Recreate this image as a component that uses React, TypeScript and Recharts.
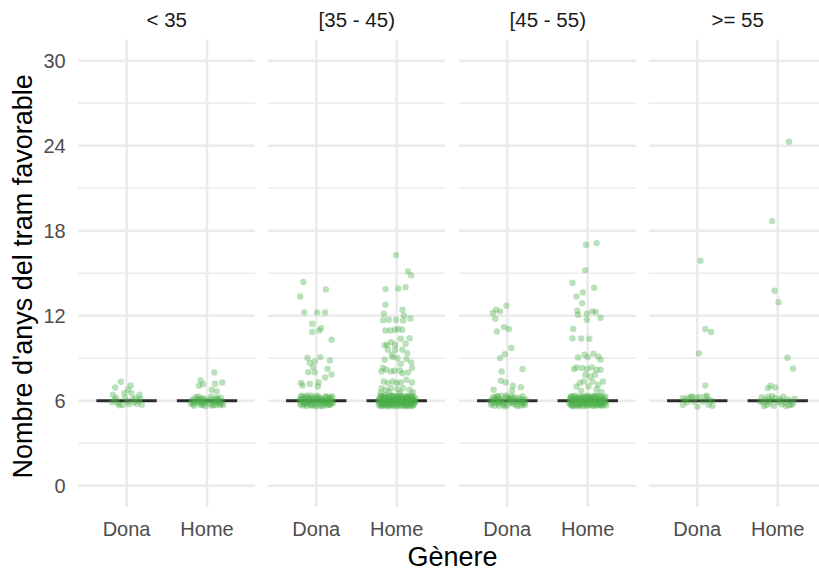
import React from 'react';
import { ScatterChart, Scatter, XAxis, YAxis, CartesianGrid } from 'recharts';

const AGE_GROUPS = ['< 35', '[35 - 45)', '[45 - 55)', '>= 55'];
const GENDERS = ['Dona', 'Home'];
const MEDIANS = [[6, 6], [6, 6], [6, 6], [6, 6]];
const Y_TICKS = [0, 6, 12, 18, 24, 30];
const Y_MINOR = [3, 9, 15, 21, 27];

// [jitter offset within category, value]
const p1Dona = [
  [-0.07, 7.34], [-0.14, 6.94], [0.05, 7.08], [0.02, 6.78], [-0.17, 6.42], [-0.03, 6.54], [0.06, 6.54], [0.16, 6.42],
  [-0.15, 6.05], [-0.11, 5.82], [-0.05, 5.7], [0.01, 5.95], [0.07, 6.1], [0.11, 6.2], [0.15, 5.98], [0.19, 5.72],
  [-0.09, 5.68], [0.03, 5.76], [0.13, 5.78], [-0.02, 6.22], [0.09, 5.88], [-0.13, 6.2], [0.17, 6.15], [-0.18, 5.9],
];
const p1Home = [
  [0.09, 8.0], [-0.08, 7.44], [-0.05, 7.18], [-0.1, 7.06], [0.1, 7.2], [0.19, 7.29], [0.06, 6.78], [0.12, 6.66],
  [-0.2, 5.8], [-0.18, 6.1], [-0.16, 5.65], [-0.14, 6.25], [-0.12, 5.92], [-0.1, 6.05], [-0.08, 5.7], [-0.06, 6.18],
  [-0.04, 5.85], [-0.02, 5.62], [0.0, 6.0], [0.03, 5.78], [0.05, 6.3], [0.07, 5.9], [0.09, 6.12], [0.11, 5.68],
  [0.13, 6.02], [0.15, 5.84], [0.17, 6.22], [0.19, 5.95], [0.2, 5.7], [-0.19, 5.95], [-0.15, 5.9], [-0.11, 6.3],
  [-0.07, 5.95], [-0.03, 6.12], [0.06, 5.66], [0.1, 5.98], [0.14, 6.15], [0.18, 5.78], [-0.09, 5.82], [0.12, 5.88],
  [-0.17, 5.76], [-0.13, 6.08], [-0.09, 6.15], [-0.05, 5.72], [-0.01, 5.9], [0.04, 6.08], [0.08, 5.7], [0.12, 6.2],
  [0.16, 5.7], [-0.06, 5.98],
];
const p2Dona = [
  [-0.16, 14.38], [0.12, 13.86], [-0.2, 13.36], [-0.15, 12.24], [0.01, 12.24], [0.11, 12.24], [-0.05, 11.44],
  [-0.05, 10.85], [0.04, 10.96], [0.06, 11.13], [0.19, 10.31], [-0.11, 9.04], [0.05, 9.08], [0.17, 8.85],
  [-0.02, 8.78], [-0.08, 8.66], [-0.04, 8.38], [0.14, 8.26], [-0.1, 8.02], [0.19, 7.86], [0.11, 7.65],
  [-0.19, 7.25], [-0.17, 7.08], [-0.08, 7.18], [0.03, 7.29], [0.02, 7.01], [-0.02, 8.02],
  [-0.2, 5.74], [-0.18, 6.12], [-0.16, 5.9], [-0.14, 6.3], [-0.12, 5.63], [-0.1, 6.02], [-0.08, 5.81], [-0.05, 6.22],
  [-0.03, 5.69], [-0.01, 5.97], [0.02, 6.35], [0.04, 5.78], [0.06, 6.08], [0.08, 5.62], [0.11, 6.26], [0.13, 5.86],
  [0.15, 6.04], [0.17, 5.7], [0.19, 6.18], [0.21, 5.93], [-0.21, 6.05], [-0.17, 5.66], [-0.13, 6.16], [-0.09, 5.95],
  [-0.06, 6.36], [-0.02, 5.85], [0.01, 6.12], [0.05, 5.65], [0.09, 5.98], [0.12, 6.33], [0.16, 5.76], [0.2, 6.3],
  [-0.19, 6.28], [-0.15, 5.79], [-0.11, 6.38], [-0.07, 5.7], [-0.04, 6.06], [0.0, 5.6], [0.03, 6.2], [0.07, 5.89],
  [0.1, 5.72], [0.14, 6.15], [0.18, 5.84], [-0.16, 6.08], [-0.08, 6.14], [0.06, 6.0], [0.12, 5.94], [-0.12, 5.88],
  [-0.19, 5.9], [-0.14, 5.75], [-0.1, 6.2], [-0.06, 5.66], [-0.03, 6.1], [0.01, 5.8], [0.04, 6.2], [0.08, 6.1],
  [0.1, 5.86], [0.14, 5.68], [0.17, 6.12], [0.2, 5.8], [-0.18, 6.36], [-0.01, 6.3], [0.16, 6.28],
];
const p2Home = [
  [-0.01, 16.28], [0.14, 15.13], [0.18, 14.85], [-0.14, 13.88], [0.02, 13.93], [0.11, 14.02], [-0.14, 12.78],
  [-0.16, 12.14], [0.07, 12.42], [0.09, 12.02], [-0.17, 11.69], [-0.1, 11.72], [-0.01, 11.72], [0.08, 11.67],
  [0.17, 11.81], [-0.14, 10.96], [-0.08, 10.96], [-0.02, 11.01], [0.02, 11.06], [0.07, 11.01], [-0.15, 9.91],
  [-0.12, 9.95], [-0.07, 10.14], [-0.02, 9.95], [0.05, 10.38], [0.16, 10.42], [0.11, 10.02], [-0.11, 9.6],
  [-0.02, 9.6], [0.07, 9.6], [0.13, 9.36], [-0.05, 9.08], [0.01, 9.01], [0.12, 8.94], [-0.15, 8.89], [0.18, 8.71],
  [0.05, 8.61], [-0.06, 9.25], [0.19, 8.31], [-0.17, 8.31], [-0.19, 8.07], [-0.13, 8.19], [-0.07, 8.07],
  [-0.03, 8.12], [0.07, 7.95], [0.14, 8.0], [0.04, 8.14], [-0.16, 7.36], [-0.11, 7.25], [-0.05, 7.36], [0.0, 7.25],
  [0.05, 7.29], [0.19, 7.29], [0.12, 7.48], [-0.19, 6.89], [-0.14, 6.78], [-0.07, 6.89], [0.01, 6.82], [0.08, 6.89],
  [0.16, 6.78], [-0.1, 6.62], [0.04, 6.58], [-0.2, 6.55], [0.2, 6.6],
  [-0.22, 5.71], [-0.19, 6.08], [-0.2, 5.93], [-0.16, 6.31], [-0.17, 5.64], [-0.14, 5.88], [-0.12, 6.19], [-0.11, 5.6],
  [-0.09, 6.02], [-0.07, 5.77], [-0.06, 6.37], [-0.04, 5.92], [-0.03, 6.14], [-0.01, 5.68], [0.0, 6.26], [0.02, 5.83],
  [0.03, 6.05], [0.05, 5.62], [0.06, 6.33], [0.08, 5.96], [0.09, 5.74], [0.11, 6.21], [0.12, 5.88], [0.14, 6.1],
  [0.15, 5.66], [0.17, 6.28], [0.18, 5.9], [0.2, 6.04], [0.21, 5.72], [0.23, 6.18], [-0.21, 6.22], [-0.18, 5.8],
  [-0.15, 6.05], [-0.13, 5.7], [-0.1, 6.3], [-0.08, 5.84], [-0.05, 6.09], [-0.02, 5.61], [0.01, 5.99], [0.04, 6.36],
  [0.07, 5.69], [0.1, 6.0], [0.13, 5.62], [0.16, 5.98], [0.19, 6.35], [0.22, 5.85], [-0.23, 5.97], [-0.2, 5.62],
  [-0.17, 6.16], [-0.14, 6.39], [-0.12, 5.95], [-0.09, 5.66], [-0.06, 5.82], [-0.03, 6.28], [0.0, 5.75], [0.02, 6.17],
  [0.05, 5.91], [0.08, 6.24], [0.1, 5.63], [0.13, 6.07], [0.15, 6.34], [0.18, 5.76], [0.21, 6.27], [0.23, 5.92],
  [-0.19, 5.88], [-0.15, 5.67], [-0.11, 6.1], [-0.07, 6.02], [-0.01, 6.0], [0.04, 5.78], [0.09, 6.12], [0.12, 6.32],
  [0.16, 5.82], [0.2, 5.64],
  [-0.21, 5.86], [-0.18, 6.29], [-0.16, 5.75], [-0.13, 6.02], [-0.1, 5.8], [-0.08, 6.33], [-0.05, 5.7], [-0.03, 5.96],
  [0.0, 6.1], [0.02, 5.66], [0.04, 6.22], [0.06, 5.85], [0.08, 6.04], [0.11, 5.7], [0.13, 6.3], [0.16, 6.12],
  [0.18, 5.64], [0.21, 5.98], [-0.22, 6.1], [-0.19, 5.7], [-0.15, 6.2], [-0.12, 5.76], [-0.09, 6.15], [-0.06, 5.64],
  [-0.02, 6.06], [0.01, 6.3], [0.03, 5.9], [0.07, 6.1], [0.1, 5.84], [0.14, 5.76], [0.17, 5.95], [0.19, 6.15],
  [0.22, 6.02], [-0.2, 6.36], [-0.11, 5.9], [-0.04, 6.34], [0.06, 6.16], [0.15, 5.94], [-0.17, 5.9], [0.12, 6.14],
];
const p3Dona = [
  [-0.18, 12.19], [-0.14, 12.42], [-0.09, 12.31], [-0.01, 12.71], [-0.15, 11.79], [-0.04, 11.2], [0.02, 11.06],
  [-0.13, 10.89], [0.05, 9.72], [-0.09, 9.01], [-0.03, 9.29], [0.19, 8.24], [-0.07, 8.07], [-0.08, 7.41],
  [-0.02, 7.29], [0.07, 7.06], [0.17, 6.96], [-0.17, 6.78], [0.06, 6.71],
  [-0.2, 5.72], [-0.18, 6.15], [-0.15, 5.9], [-0.13, 6.3], [-0.1, 5.65], [-0.08, 6.04], [-0.05, 5.82], [-0.02, 6.24],
  [0.0, 5.68], [0.03, 5.98], [0.05, 6.33], [0.08, 5.77], [0.1, 6.1], [0.13, 5.62], [0.15, 6.2], [0.18, 5.86],
  [0.2, 6.05], [0.22, 5.7], [-0.21, 6.0], [-0.16, 5.64], [-0.11, 6.18], [-0.06, 5.95], [-0.01, 6.37], [0.04, 5.85],
  [0.09, 6.27], [0.14, 5.94], [0.19, 6.32], [0.23, 6.1], [-0.17, 6.26], [-0.12, 5.8], [-0.07, 6.35], [-0.03, 5.6],
  [0.02, 6.12], [0.07, 5.92], [0.12, 6.0], [0.17, 5.66], [0.21, 5.9], [-0.09, 5.9],
  [-0.19, 5.85], [-0.14, 6.08], [-0.1, 5.95], [-0.04, 5.72], [0.01, 6.2], [0.06, 6.15], [0.11, 5.7], [0.16, 6.1],
  [0.2, 5.76], [-0.12, 6.32],
];
const p3Home = [
  [-0.02, 17.01], [0.11, 17.13], [-0.03, 15.22], [-0.19, 14.31], [0.08, 13.98], [-0.14, 13.36], [-0.06, 13.65],
  [-0.07, 12.89], [-0.13, 12.35], [-0.12, 12.07], [-0.01, 12.14], [0.06, 12.31], [0.1, 12.26], [0.16, 11.86],
  [-0.01, 11.72], [-0.18, 11.06], [-0.19, 10.4], [-0.08, 10.4], [0.02, 10.38], [-0.12, 9.06], [-0.04, 9.25],
  [0.0, 9.08], [0.07, 9.32], [0.13, 9.13], [0.16, 8.89], [-0.17, 8.24], [-0.14, 8.35], [-0.07, 8.31], [-0.01, 8.24],
  [0.05, 8.35], [0.11, 8.19], [0.16, 8.19], [-0.03, 7.84], [0.03, 7.72], [0.09, 7.84], [-0.1, 7.25], [-0.05, 7.36],
  [0.06, 7.36], [0.13, 7.13], [0.19, 7.36], [-0.14, 7.01], [0.01, 7.01], [0.11, 6.82], [-0.08, 6.7], [0.17, 6.62],
  [-0.23, 5.8], [-0.21, 6.2], [-0.19, 5.66], [-0.17, 6.02], [-0.15, 6.35], [-0.13, 5.74], [-0.11, 6.12], [-0.09, 5.9],
  [-0.07, 6.28], [-0.05, 5.62], [-0.03, 6.06], [-0.01, 5.84], [0.01, 6.32], [0.03, 5.7], [0.05, 6.14], [0.07, 5.95],
  [0.09, 6.38], [0.11, 5.64], [0.13, 6.0], [0.15, 5.78], [0.17, 6.25], [0.19, 5.92], [0.21, 6.1], [0.23, 5.68],
  [-0.22, 5.95], [-0.18, 5.6], [-0.14, 6.18], [-0.1, 5.68], [-0.06, 5.98], [-0.02, 6.36], [0.02, 5.9], [0.06, 5.66],
  [0.1, 6.22], [0.14, 6.04], [0.18, 5.63], [0.22, 6.3], [-0.2, 6.33], [-0.16, 5.85], [-0.12, 6.06], [-0.08, 5.72],
  [-0.04, 6.24], [0.0, 5.96], [0.04, 6.02], [0.08, 5.82], [0.12, 6.36], [0.16, 5.71], [0.2, 6.01], [-0.21, 5.7],
  [-0.15, 6.1], [-0.11, 5.62], [-0.07, 6.16], [-0.01, 5.76], [0.05, 6.29], [0.11, 5.87], [0.17, 6.07], [0.21, 5.82],
  [-0.18, 6.08], [-0.13, 5.93], [-0.05, 5.88], [0.03, 6.2], [0.09, 6.08], [0.15, 6.32], [-0.09, 6.3], [0.19, 5.72],
  [-0.22, 6.12], [-0.2, 5.76], [-0.17, 6.3], [-0.14, 5.66], [-0.12, 6.2], [-0.09, 5.8], [-0.06, 6.1], [-0.03, 5.7],
  [0.0, 6.28], [0.02, 5.76], [0.04, 6.12], [0.07, 5.65], [0.09, 5.9], [0.12, 6.16], [0.14, 5.7], [0.17, 5.9],
  [0.2, 6.24], [0.22, 5.92], [-0.19, 5.96], [-0.15, 5.82], [-0.1, 6.04], [-0.05, 6.16], [-0.01, 5.64], [0.03, 6.04],
  [0.08, 6.3], [0.13, 5.8], [0.18, 6.06], [-0.21, 6.28], [-0.07, 5.86], [0.1, 5.74],
];
const p4Dona = [
  [0.04, 15.88], [0.1, 11.06], [0.17, 10.85], [0.02, 9.34], [0.1, 7.08],
  [-0.18, 6.19], [-0.15, 6.07], [-0.11, 6.19], [-0.08, 6.26], [-0.06, 6.31], [-0.01, 6.19], [0.03, 6.26], [0.1, 6.31],
  [0.12, 6.35], [0.14, 6.07], [0.18, 6.0], [-0.18, 5.72], [0.0, 5.6], [0.14, 5.72], [0.19, 5.65], [0.07, 5.95],
  [-0.05, 5.95], [-0.13, 5.88],
];
const p4Home = [
  [0.14, 24.28], [-0.07, 18.68], [-0.04, 13.76], [0.01, 12.96], [0.12, 9.04], [0.19, 8.28], [-0.12, 6.89],
  [-0.09, 7.06], [-0.03, 6.94],
  [-0.2, 6.25], [-0.18, 5.9], [-0.16, 6.1], [-0.14, 5.7], [-0.12, 6.3], [-0.1, 5.82], [-0.08, 6.05], [-0.05, 5.65],
  [-0.03, 6.2], [0.0, 5.92], [0.02, 6.12], [0.05, 5.75], [0.07, 6.28], [0.09, 5.88], [0.12, 6.1], [0.14, 5.68],
  [0.16, 6.0], [0.19, 5.8], [0.21, 6.15], [-0.22, 5.95], [-0.17, 5.62], [-0.07, 6.32], [0.04, 6.02], [0.1, 5.62],
  [-0.12, 5.98], [0.17, 5.72],
];

const PANELS = [[p1Dona, p1Home], [p2Dona, p2Home], [p3Dona, p3Home], [p4Dona, p4Home]];

const FONT = '"Liberation Sans", Arial, sans-serif';
const GRID = '#EBEBEB';
const PANEL_W = 177;
const Y_AXIS_W = 78.3;
const PANEL_LEFTS = [78.3, 268.3, 459.3, 649.2];
const TOP = 39.5;
const X_AXIS_H = 63;
const H = 570;
const HALF = 0.375;

const Dot = (p: any) => <circle cx={p.cx} cy={p.cy} r={3.2} fill="#4DAF4A" fillOpacity={0.38} />;
const NoDot = () => <g />;

function Panel({ idx }: { idx: number }) {
  const [dona, home] = PANELS[idx];
  const data = [
    ...dona.map(([dx, y]) => ({ x: 1 + dx, y })),
    ...home.map(([dx, y]) => ({ x: 2 + dx, y })),
  ];
  const first = idx === 0;
  const med = MEDIANS[idx];
  const seg = (c: number, m: number) => [{ x: c - HALF, y: m }, { x: c + HALF, y: m }];
  const width = first ? Y_AXIS_W + PANEL_W : PANEL_W;
  const left = first ? 0 : PANEL_LEFTS[idx];
  return (
    <div style={{ position: 'absolute', left, top: 0, width, height: H }}>
      <ScatterChart width={width} height={H} margin={{ top: TOP, right: 0, bottom: 0, left: 0 }}>
        <CartesianGrid stroke={GRID} strokeWidth={1.3} vertical={false} horizontalValues={Y_MINOR} />
        <CartesianGrid stroke={GRID} strokeWidth={2.6} horizontalValues={Y_TICKS} verticalValues={[1, 2]} />
        <XAxis
          dataKey="x"
          type="number"
          domain={[0.4, 2.6]}
          ticks={[1, 2]}
          interval={0}
          tickFormatter={(v: number) => GENDERS[Math.round(v) - 1]}
          axisLine={false}
          tickLine={false}
          tickSize={6}
          tickMargin={8.7}
          height={X_AXIS_H}
          allowDataOverflow
          tick={{ fontSize: 20, fill: '#4D4D4D', fontFamily: FONT }}
        />
        <YAxis
          dataKey="y"
          type="number"
          domain={[-1.5, 31.5]}
          ticks={Y_TICKS}
          interval={0}
          hide={!first}
          width={first ? Y_AXIS_W : 0}
          axisLine={false}
          tickLine={false}
          tickSize={6}
          tickMargin={6.6}
          allowDataOverflow
          tick={{ fontSize: 20, fill: '#4D4D4D', fontFamily: FONT }}
        />
        <Scatter data={seg(1, med[0])} shape={NoDot} line={{ stroke: '#2B2B2B', strokeWidth: 3 }} isAnimationActive={false} />
        <Scatter data={seg(2, med[1])} shape={NoDot} line={{ stroke: '#2B2B2B', strokeWidth: 3 }} isAnimationActive={false} />
        <Scatter data={data} shape={Dot} isAnimationActive={false} />
      </ScatterChart>
    </div>
  );
}

export default function App() {
  const centers = PANEL_LEFTS.map((l) => l + PANEL_W / 2);
  return (
    <div style={{ position: 'absolute', left: 0, top: 0, width: 819, height: H, overflow: 'hidden', background: '#fff' }}>
      {AGE_GROUPS.map((_, i) => (
        <Panel key={i} idx={i} />
      ))}
      <svg width={819} height={H} style={{ position: 'absolute', left: 0, top: 0, pointerEvents: 'none' }}>
        {AGE_GROUPS.map((g, i) => (
          <text key={g} x={centers[i]} y={27} textAnchor="middle" fontSize={20.5} fill="#1A1A1A" fontFamily={FONT}>
            {g}
          </text>
        ))}
        <text x={452.5} y={565.5} textAnchor="middle" fontSize={27} fill="#000" fontFamily={FONT}>
          Gènere
        </text>
        <text
          x={0}
          y={0}
          transform="translate(32,276.4) rotate(-90)"
          textAnchor="middle"
          fontSize={27}
          fill="#000"
          fontFamily={FONT}
        >
          Nombre d'anys del tram favorable
        </text>
      </svg>
    </div>
  );
}
